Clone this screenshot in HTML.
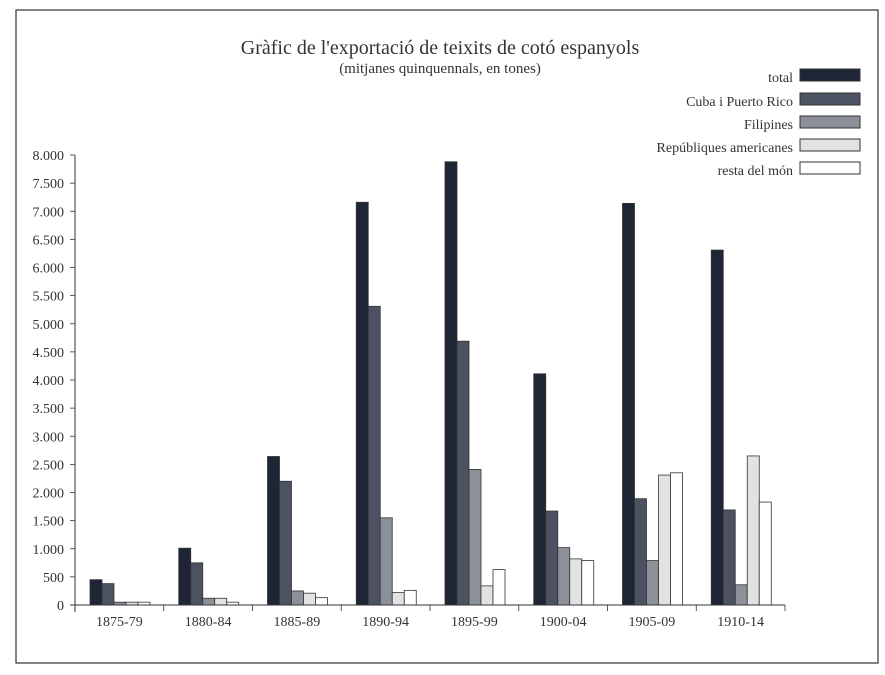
<!DOCTYPE html>
<html><head><meta charset="utf-8"><style>
html,body{margin:0;padding:0;background:#fff;}
svg{display:block;font-family:"Liberation Serif",serif;}
</style></head><body>
<svg width="885" height="675" viewBox="0 0 885 675" xmlns="http://www.w3.org/2000/svg">
<rect x="16" y="10" width="862" height="653" fill="none" stroke="#333" stroke-width="1.2"/>
<text x="440" y="54" text-anchor="middle" font-size="20" fill="#333">Gràfic de l'exportació de teixits de cotó espanyols</text>
<text x="440" y="73" text-anchor="middle" font-size="15" fill="#333">(mitjanes quinquennals, en tones)</text>
<g font-size="14" fill="#333" text-anchor="end">
<text x="793" y="82">total</text>
<text x="793" y="106">Cuba i Puerto Rico</text>
<text x="793" y="129">Filipines</text>
<text x="793" y="152">Repúbliques americanes</text>
<text x="793" y="175">resta del món</text>
</g>
<g stroke="#333" stroke-width="1">
<rect x="800" y="69" width="60" height="12" fill="#1e2535"/>
<rect x="800" y="93" width="60" height="12" fill="#4c5262"/>
<rect x="800" y="116" width="60" height="12" fill="#8c9098"/>
<rect x="800" y="139" width="60" height="12" fill="#e2e2e2"/>
<rect x="800" y="162" width="60" height="12" fill="#fff"/>
</g>
<g id="bars" stroke="#333" stroke-width="0.8"></g>
<g font-size="14" fill="#333" text-anchor="end" id="yl"></g>
<g font-size="14" fill="#333" text-anchor="middle" id="xl"></g>
<line x1="75" y1="155" x2="75" y2="612" stroke="#333"/>
<line x1="70" y1="605" x2="785" y2="605" stroke="#333"/>
<script>
var ns="http://www.w3.org/2000/svg";
var data=[[450,380,50,50,50],[1010,750,120,120,50],[2640,2200,250,210,130],[7160,5310,1550,220,260],[7880,4690,2410,340,630],[4110,1670,1020,820,790],[7140,1890,790,2310,2350],[6310,1690,360,2650,1830]];
var labs=["1875-79","1880-84","1885-89","1890-94","1895-99","1900-04","1905-09","1910-14"];
var cols=["#1e2535","#4c5262","#8c9098","#e2e2e2","#fff"];
var g=document.getElementById("bars"),yl=document.getElementById("yl"),xl=document.getElementById("xl");
function y(v){return 605-v*0.05625;}
var gw=88.75;
data.forEach(function(d,i){
 var x0=75+i*gw+15;
 d.forEach(function(v,j){var r=document.createElementNS(ns,"rect");r.setAttribute("x",x0+j*12);r.setAttribute("y",y(v));r.setAttribute("width",12);r.setAttribute("height",605-y(v));r.setAttribute("fill",cols[j]);g.appendChild(r);});
 var t=document.createElementNS(ns,"text");t.setAttribute("x",75+i*gw+gw/2);t.setAttribute("y",626);t.textContent=labs[i];xl.appendChild(t);
 var l=document.createElementNS(ns,"line");l.setAttribute("x1",75+(i+1)*gw);l.setAttribute("x2",75+(i+1)*gw);l.setAttribute("y1",605);l.setAttribute("y2",611);l.setAttribute("stroke","#333");g.appendChild(l);
});
for(var v=0;v<=8000;v+=500){var t=document.createElementNS(ns,"text");t.setAttribute("x",64);t.setAttribute("y",y(v)+5);t.textContent=v==0?"0":(v>=1000?Math.floor(v/1000)+"."+String(v%1000).padStart(3,"0"):String(v));yl.appendChild(t);
var l=document.createElementNS(ns,"line");l.setAttribute("x1",70);l.setAttribute("x2",75);l.setAttribute("y1",y(v));l.setAttribute("y2",y(v));l.setAttribute("stroke","#333");g.appendChild(l);}
</script>
</svg>
</body></html>
